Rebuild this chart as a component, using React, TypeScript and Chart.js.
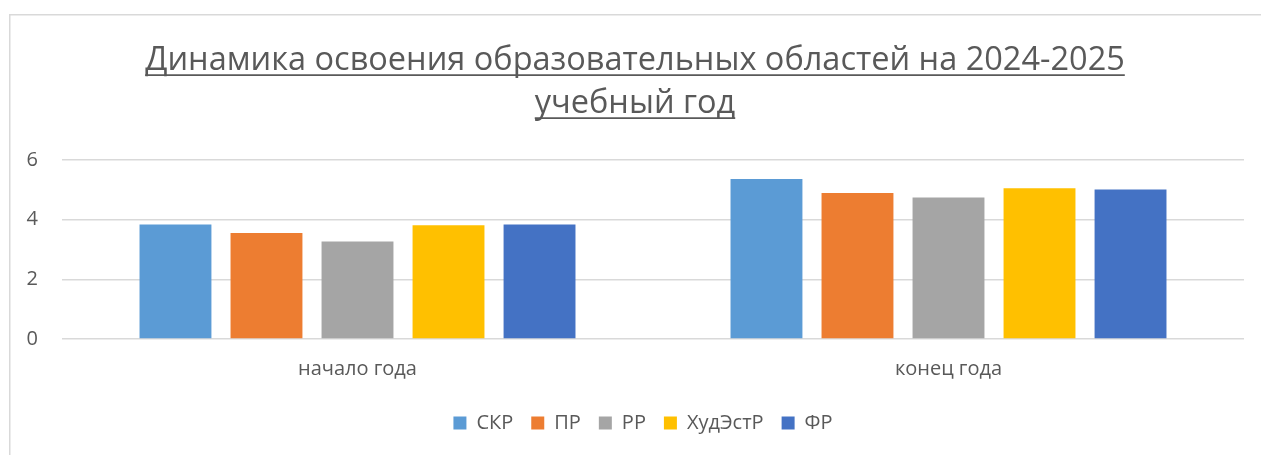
import React, { useEffect, useRef } from "react";
import { Chart, registerables } from "chart.js";

Chart.register(...registerables);

const titleLines = ["Динамика освоения образовательных областей на 2024-2025", "учебный год"];
const categories = ["начало года", "конец года"];
const seriesNames = ["СКР", "ПР", "РР", "ХудЭстР", "ФР"];
const seriesColors = ["#5B9BD5", "#ED7D31", "#A5A5A5", "#FFC000", "#4472C4"];
const skrValues = [3.84, 5.36];
const prValues = [3.55, 4.89];
const rrValues = [3.27, 4.74];
const hudValues = [3.81, 5.05];
const frValues = [3.84, 5.01];
const yTicks = [0, 2, 4, 6];

const FONT = '"Open Sans", "Noto Sans", sans-serif';
const TEXT = "#595959";
const TITLE_SIZE = 32.5;
const TITLE_LH = 1.32;
const TITLE_PAD_TOP = 39;

export default function App() {
  const ref = useRef<HTMLCanvasElement | null>(null);

  useEffect(() => {
    if (!ref.current) return;
    const values = [skrValues, prValues, rrValues, hudValues, frValues];

    const decorPlugin = {
      id: "decor",
      afterLayout(chart: any) {
        const lg = chart.legend;
        if (lg) {
          lg.left += 16;
          lg.right += 16;
        }
        const tb = chart.titleBlock;
        if (tb) {
          tb.left += 8;
          tb.right += 8;
        }
      },
      beforeDraw(chart: any) {
        const ctx = chart.ctx;
        ctx.save();
        ctx.strokeStyle = "#D9D9D9";
        ctx.lineWidth = 1.5;
        ctx.strokeRect(9.75, 14.75, 1400, 600);
        ctx.restore();
      },
      afterDraw(chart: any) {
        const tb = chart.titleBlock;
        if (!tb) return;
        const ctx = chart.ctx;
        ctx.save();
        ctx.font = `normal ${TITLE_SIZE}px ${FONT}`;
        ctx.textBaseline = "middle";
        const lh = TITLE_SIZE * TITLE_LH;
        const desc = ctx.measureText("Н").actualBoundingBoxDescent;
        const cx = (tb.left + tb.right) / 2;
        ctx.strokeStyle = TEXT;
        ctx.lineWidth = 1.8;
        titleLines.forEach((line, i) => {
          const w = ctx.measureText(line).width;
          const y = tb.top + TITLE_PAD_TOP + lh / 2 + i * lh + desc + 5.5;
          ctx.beginPath();
          ctx.moveTo(cx - w / 2, y);
          ctx.lineTo(cx + w / 2, y);
          ctx.stroke();
        });
        ctx.restore();
      },
    };

    const chart = new Chart(ref.current, {
      type: "bar",
      data: {
        labels: categories,
        datasets: seriesNames.map((name, i) => ({
          label: name,
          data: values[i],
          backgroundColor: seriesColors[i],
          borderWidth: 0,
          categoryPercentage: 0.77,
          barPercentage: 0.79,
        })),
      },
      options: {
        animation: false,
        responsive: false,
        maintainAspectRatio: false,
        layout: { padding: { left: 10, right: 17, top: 0, bottom: 12 } },
        plugins: {
          title: {
            display: true,
            text: titleLines,
            color: TEXT,
            font: { family: FONT, size: TITLE_SIZE, weight: "normal", lineHeight: TITLE_LH },
            padding: { top: TITLE_PAD_TOP, bottom: 35.2 },
          },
          legend: {
            position: "bottom",
            labels: {
              boxWidth: 13,
              boxHeight: 13,
              padding: 18,
              color: TEXT,
              font: { family: FONT, size: 20 },
            },
          },
          tooltip: { enabled: false },
        },
        scales: {
          x: {
            grid: { display: false, drawTicks: false },
            border: { display: false },
            ticks: { color: TEXT, font: { family: FONT, size: 20 }, padding: 18 },
            afterFit(scale: any) {
              scale.height = 56;
            },
          },
          y: {
            min: 0,
            max: 6,
            afterBuildTicks(scale: any) {
              scale.ticks = yTicks.map((v) => ({ value: v }));
            },
            grid: { color: "#D9D9D9", lineWidth: 1.5, drawTicks: false },
            border: { display: false },
            ticks: { color: TEXT, font: { family: FONT, size: 20 }, padding: 24 },
            afterFit(scale: any) {
              scale.width = 52;
            },
          },
        },
      },
      plugins: [decorPlugin],
    } as any);

    return () => chart.destroy();
  }, []);

  return (
    <div style={{ position: "fixed", left: 0, top: 0, width: 1261, height: 455, background: "#fff" }}>
      <canvas ref={ref} width={1261} height={455} style={{ display: "block" }} />
    </div>
  );
}
